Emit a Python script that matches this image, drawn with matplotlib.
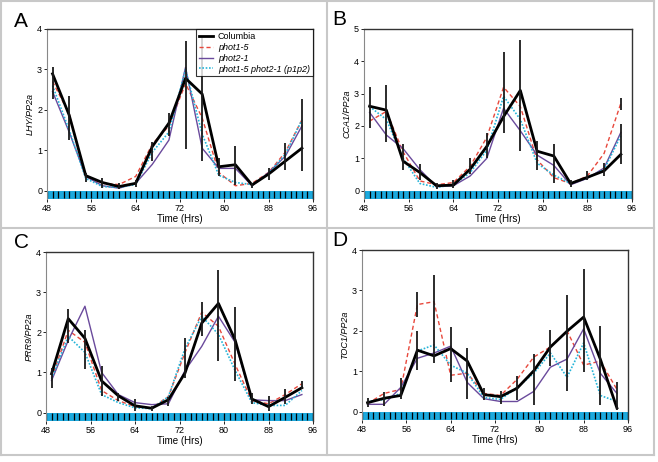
import numpy as np
import matplotlib
matplotlib.use("Agg")
import matplotlib.pyplot as plt
from matplotlib.lines import Line2D
from matplotlib.patches import Rectangle

plt.rcParams['font.family'] = ['Liberation Sans', 'DejaVu Sans']

# tiempos de muestreo (horas)
t = [49, 52, 55, 58, 61, 64, 67, 70, 73, 76, 79, 82, 85, 88, 91, 94]

# ---- Panel A: LHY
A_col = [2.89, 1.87, 0.37, 0.20, 0.10, 0.18, 1.09, 1.67, 2.78, 2.39, 0.59, 0.64, 0.14, 0.41, 0.73, 1.05]
A_p1 = [2.70, 1.90, 0.35, 0.18, 0.15, 0.35, 1.15, 1.60, 2.65, 1.80, 0.45, 0.12, 0.18, 0.45, 0.95, 1.75]
A_p2 = [2.45, 1.45, 0.35, 0.12, 0.06, 0.18, 0.65, 1.25, 3.05, 1.05, 0.55, 0.55, 0.12, 0.45, 0.85, 1.60]
A_p1p2 = [2.60, 1.50, 0.30, 0.10, 0.08, 0.15, 0.95, 1.45, 3.00, 1.40, 0.38, 0.20, 0.15, 0.42, 0.90, 1.75]
A_bar_t = t
A_bar_lo = [2.26, 1.25, 0.22, 0.06, 0.03, 0.10, 0.74, 1.34, 1.02, 0.74, 0.35, 0.14, 0.06, 0.26, 0.51, 0.49]
A_bar_hi = [3.07, 2.33, 0.43, 0.30, 0.20, 0.26, 1.21, 1.91, 3.70, 3.79, 0.80, 1.10, 0.20, 0.55, 1.17, 2.26]

# ---- Panel B: CCA1
B_col = [2.61, 2.49, 0.91, 0.56, 0.15, 0.17, 0.66, 1.37, 2.29, 3.10, 1.22, 1.07, 0.22, 0.41, 0.61, 1.12]
B_p1 = [2.15, 2.45, 1.20, 0.30, 0.18, 0.25, 0.75, 1.65, 3.20, 2.60, 0.95, 0.40, 0.22, 0.45, 1.15, 2.70]
B_p2 = [2.42, 1.72, 1.30, 0.65, 0.12, 0.15, 0.45, 1.00, 2.55, 1.85, 1.10, 0.78, 0.18, 0.38, 0.70, 1.80]
B_p1p2 = [2.60, 2.20, 1.00, 0.22, 0.10, 0.18, 0.55, 1.25, 2.92, 2.20, 0.85, 0.48, 0.22, 0.40, 0.65, 1.70]
B_bar_t = t + [94]
B_bar_lo = [1.93, 1.50, 0.63, 0.33, 0.05, 0.08, 0.51, 1.02, 1.78, 1.24, 0.63, 0.25, 0.10, 0.33, 0.46, 0.81, 2.50]
B_bar_hi = [3.20, 3.27, 1.44, 0.83, 0.25, 0.33, 1.02, 1.78, 4.30, 4.67, 1.54, 1.44, 0.33, 0.61, 0.84, 2.05, 2.85]

# ---- Panel C: PRR9
C_col = [0.97, 2.34, 1.85, 0.79, 0.42, 0.17, 0.11, 0.32, 0.99, 2.23, 2.72, 1.81, 0.34, 0.15, 0.38, 0.62]
C_p1 = [0.85, 2.05, 1.75, 0.55, 0.30, 0.15, 0.12, 0.40, 1.50, 2.50, 2.15, 1.20, 0.30, 0.22, 0.45, 0.72]
C_p2 = [0.80, 1.80, 2.65, 1.00, 0.45, 0.25, 0.20, 0.22, 1.05, 1.65, 2.40, 1.75, 0.32, 0.30, 0.30, 0.45]
C_p1p2 = [0.85, 1.90, 1.50, 0.45, 0.25, 0.12, 0.10, 0.40, 1.60, 2.40, 1.95, 1.05, 0.25, 0.18, 0.18, 0.55]
C_bar_t = t
C_bar_lo = [0.62, 1.73, 1.09, 0.42, 0.29, 0.05, 0.05, 0.17, 0.87, 1.90, 1.28, 0.79, 0.21, 0.05, 0.21, 0.58]
C_bar_hi = [1.11, 2.58, 2.07, 1.17, 0.50, 0.34, 0.17, 0.38, 1.87, 2.76, 3.54, 2.64, 0.50, 0.42, 0.60, 0.79]

# ---- Panel D: TOC1
D_col = [0.22, 0.33, 0.40, 1.52, 1.38, 1.56, 1.25, 0.42, 0.37, 0.58, 1.01, 1.60, 1.99, 2.34, 1.30, 0.09]
D_p1 = [0.20, 0.45, 0.55, 2.65, 2.72, 0.90, 0.95, 0.45, 0.40, 0.80, 1.35, 1.60, 2.00, 1.15, 1.25, 0.55]
D_p2 = [0.18, 0.18, 0.60, 1.32, 1.45, 1.62, 0.72, 0.32, 0.25, 0.25, 0.50, 1.10, 1.30, 2.05, 0.95, 0.45]
D_p1p2 = [0.25, 0.30, 0.45, 1.50, 1.65, 1.15, 0.95, 0.35, 0.30, 0.60, 0.95, 1.45, 0.85, 1.70, 0.40, 0.25]
D_bar_t = t + [58]
D_bar_lo = [0.11, 0.15, 0.30, 1.03, 1.20, 0.74, 0.32, 0.28, 0.20, 0.28, 0.17, 1.13, 0.50, 0.97, 0.17, 0.03, 2.34]
D_bar_hi = [0.33, 0.48, 0.82, 1.99, 3.37, 2.09, 1.58, 0.58, 0.50, 0.89, 1.42, 2.03, 2.88, 3.54, 2.11, 0.73, 2.97]

etiquetas = ["Columbia", "phot1-5", "phot2-1", "phot1-5 phot2-1 (p1p2)"]
xticks = [48, 56, 64, 72, 80, 88, 96]
horas = np.arange(48, 97, 1)

paneles = [
    ("A", "LHY/PP2a", 4, [0, 1, 2, 3, 4], A_col, A_p1, A_p2, A_p1p2, A_bar_t, A_bar_lo, A_bar_hi),
    ("B", "CCA1/PP2a", 5, [0, 1, 2, 3, 4, 5], B_col, B_p1, B_p2, B_p1p2, B_bar_t, B_bar_lo, B_bar_hi),
    ("C", "PRR9/PP2a", 4, [0, 1, 2, 3, 4], C_col, C_p1, C_p2, C_p1p2, C_bar_t, C_bar_lo, C_bar_hi),
    ("D", "TOC1/PP2a", 4, [0, 1, 2, 3, 4], D_col, D_p1, D_p2, D_p1p2, D_bar_t, D_bar_lo, D_bar_hi),
]

W, H = 658, 462
# [left, bottom, right, top] en pixeles
cajas = [(47, 199, 313, 29), (364, 199, 632, 29), (46, 421, 313, 252), (362, 420, 628, 250)]
pos_letra = [(14, 27), (332, 25), (14, 248), (332, 246)]

fig = plt.figure(figsize=(W / 100, H / 100), dpi=100)

for (letra, ylab, ytop, yt, col, p1, p2, p1p2, bt, blo, bhi), caja, pl in zip(paneles, cajas, pos_letra):
    l, b, r, tp = caja
    ax = fig.add_axes([l / W, 1 - b / H, (r - l) / W, (b - tp) / H])
    ymin = -0.052 * ytop
    ax.set_xlim(48, 96)
    ax.set_ylim(ymin, ytop)

    # barra de luz con marcas por hora
    ax.add_patch(Rectangle((48, ymin), 48, -ymin, color="#1ca9dd", zorder=1, lw=0))
    ax.vlines(horas, ymin * 0.9, ymin * 0.1, color="black", lw=0.9, zorder=2)

    ax.vlines(bt, blo, bhi, color="#1a1a1a", lw=1.3, zorder=5)
    ax.plot(t, p1, ls=(0, (3, 2)), color="#e8483c", lw=1.0, zorder=3)
    ax.plot(t, p2, color="#6a4a9c", lw=1.0, zorder=3)
    ax.plot(t, p1p2, ls=(0, (1, 1)), color="#25b4d8", lw=1.2, zorder=3)
    ax.plot(t, col, color="black", lw=2.0, zorder=4)

    ax.set_xticks(xticks)
    ax.set_yticks(yt)
    ax.tick_params(labelsize=6.5, length=2, width=0.6, pad=1.5)
    ax.set_xlabel("Time (Hrs)", fontsize=7, labelpad=1)
    ax.set_ylabel(ylab, fontsize=6.5, style="italic", labelpad=2)
    for s in ["top", "right"]:
        ax.spines[s].set_color("#333333")
        ax.spines[s].set_linewidth(1.0)
    ax.spines["left"].set_color("#888888")
    ax.spines["left"].set_linewidth(0.8)
    ax.spines["bottom"].set_visible(False)

    fig.text(pl[0] / W, 1 - pl[1] / H, letra, fontsize=15, ha="left", va="baseline")

    if letra == "A":
        manejadores = [
            Line2D([], [], color="black", lw=2.0),
            Line2D([], [], color="#e8483c", lw=1.0, ls=(0, (3, 2))),
            Line2D([], [], color="#6a4a9c", lw=1.0),
            Line2D([], [], color="#25b4d8", lw=1.2, ls=(0, (1, 1))),
        ]
        leg = ax.legend(manejadores, etiquetas, loc="upper right", fontsize=6.5,
                        frameon=True, fancybox=False, borderaxespad=0.05,
                        handlelength=1.6, handletextpad=0.5, labelspacing=0.2,
                        borderpad=0.3)
        leg.get_frame().set_edgecolor("black")
        leg.get_frame().set_linewidth(0.8)
        for i, txt in enumerate(leg.get_texts()):
            if i > 0:
                txt.set_style("italic")

# lineas grises que separan los paneles
gris = "#c8c8c8"
for (x0, y0, x1, y1) in [(1, 1, 654, 1), (1, 455, 654, 455), (1, 1, 1, 455), (654, 1, 654, 455),
                         (327, 1, 327, 455), (1, 228, 654, 228)]:
    fig.add_artist(Line2D([x0 / W, x1 / W], [1 - y0 / H, 1 - y1 / H], color=gris, lw=1.5,
                          transform=fig.transFigure))

fig.savefig("out.png", dpi=100)
